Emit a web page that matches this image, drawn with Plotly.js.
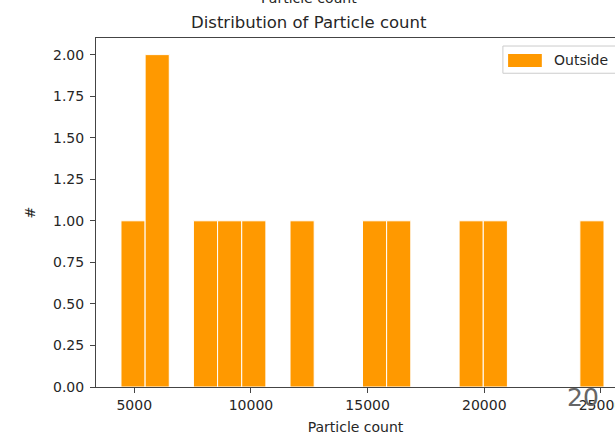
<!DOCTYPE html>
<html>
<head>
<meta charset="utf-8">
<script src="https://cdn.plot.ly/plotly-3.0.1.min.js"></script>
<style>html,body{margin:0;padding:0;background:#fff;}#chart{width:615px;height:439px;}</style>
</head>
<body>
<div id="chart"></div>
<script>
// Histogram data (20 bins)
const binStart = 4430;
const binWidth = 1035;
const counts = [1, 2, 0, 1, 1, 1, 0, 1, 0, 0, 1, 1, 0, 0, 1, 1, 0, 0, 0, 1];
const seriesName = "Outside";
const yTickVals = [0, 0.25, 0.5, 0.75, 1.0, 1.25, 1.5, 1.75, 2.0];
const xTickVals = [5000, 10000, 15000, 20000, 25000];

const xs = [], ys = [];
counts.forEach((c, i) => {
  if (c > 0) { xs.push(binStart + (i + 0.5) * binWidth); ys.push(c); }
});

const FONT = "DejaVu Sans, sans-serif";
const trace = {
  type: "bar", x: xs, y: ys, width: binWidth, name: seriesName,
  marker: {color: "#ff9900", line: {color: "#ffffff", width: 1}},
  showlegend: false, hoverinfo: "skip"
};

const layout = {
  width: 615, height: 439,
  margin: {l: 96, r: 0, t: 38, b: 52, pad: 0},
  paper_bgcolor: "#fff", plot_bgcolor: "#fff",
  font: {family: FONT, size: 14, color: "#262626"},
  title: {text: "Distribution of Particle count", font: {family: FONT, size: 16.5, color: "#262626"},
          x: 0.502, xanchor: "center", y: 0.95, yanchor: "middle", yref: "container"},
  xaxis: {range: [3360, 25601], tickvals: xTickVals, ticktext: xTickVals.map(String),
          showgrid: false, zeroline: false, showline: true, linecolor: "#444", linewidth: 1,
          mirror: true, ticks: "outside", ticklen: 5, tickcolor: "#444", ticklabeloverflow: "allow",
          tickfont: {family: FONT, size: 14, color: "#262626"},
          title: {text: "Particle count", font: {family: FONT, size: 14, color: "#262626"}, standoff: 10}},
  yaxis: {range: [0, 2.1], tickvals: yTickVals, ticktext: yTickVals.map(v => v.toFixed(2)),
          showgrid: false, zeroline: false, showline: true, linecolor: "#444", linewidth: 1,
          ticks: "outside", ticklen: 5, tickcolor: "#444", ticklabelstandoff: 3,
          tickfont: {family: FONT, size: 14, color: "#262626"},
          title: {text: "#", font: {family: FONT, size: 14, color: "#262626"}, standoff: 14}},
  shapes: [
    {type: "rect", xref: "paper", yref: "paper", x0: 0.784, x1: 1.1, y0: 0.899, y1: 0.977,
     line: {color: "#cccccc", width: 1}, fillcolor: "rgba(255,255,255,0.8)", layer: "above"},
    {type: "rect", xref: "paper", yref: "paper", x0: 0.794, x1: 0.859, y0: 0.917, y1: 0.954,
     line: {width: 0}, fillcolor: "#ff9900", layer: "above"}
  ],
  annotations: [
    {text: seriesName, xref: "paper", yref: "paper", x: 0.879, y: 0.936, xanchor: "left", yanchor: "middle",
     showarrow: false, font: {family: FONT, size: 14, color: "#262626"}},
    {text: "Particle count", xref: "paper", yref: "paper", x: 0.41, y: 1.087, xanchor: "center", yanchor: "bottom",
     showarrow: false, font: {family: FONT, size: 14, color: "#262626"}},
    {text: "20", xref: "paper", yref: "paper", x: 0.938, y: -0.03, xanchor: "center", yanchor: "middle",
     showarrow: false, font: {family: FONT, size: 25, color: "#666666"}}
  ]
};

Plotly.newPlot("chart", [trace], layout, {displayModeBar: false, staticPlot: true});
</script>
</body>
</html>
